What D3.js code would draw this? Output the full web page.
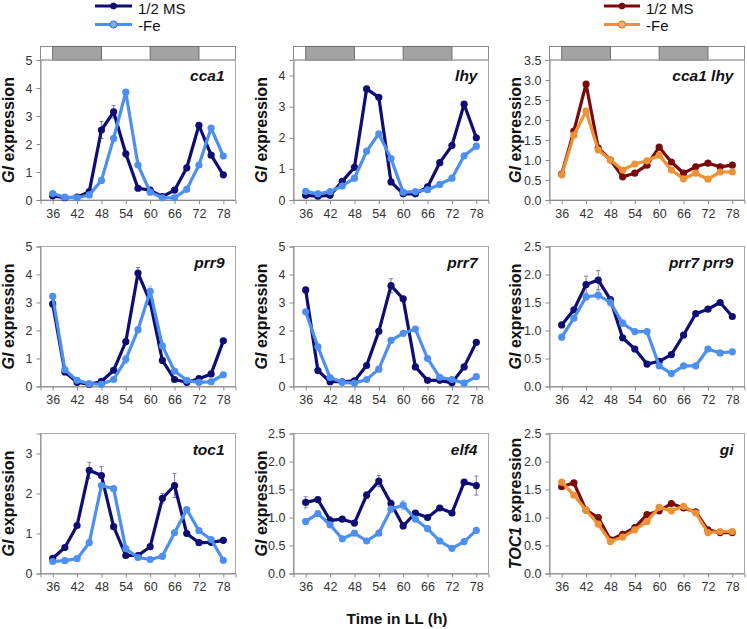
<!DOCTYPE html>
<html><head><meta charset="utf-8">
<script src="https://cdn.jsdelivr.net/npm/d3@7"></script>
<style>body{margin:0;background:#fff} svg{display:block;font-family:Arial,"Liberation Sans",sans-serif}</style>
</head><body><svg id="c" width="747" height="629"></svg>
<script>
// ---------- data ----------
const times = [36,39,42,45,48,51,54,57,60,63,66,69,72,75,78];
const xTickValues = [36,42,48,54,60,66,72,78];
const seriesNames = ["1/2 MS", "-Fe"];
const nightBands = [[36,48],[60,72]];

const cca1_ms   = [0.15,0.08,0.10,0.30,2.50,3.15,1.65,0.42,0.35,0.12,0.35,1.15,2.67,1.60,0.90];
const cca1_fe   = [0.23,0.10,0.08,0.18,0.70,2.20,3.85,1.25,0.28,0.08,0.08,0.38,1.25,2.57,1.57];
const cca1_msErr= [0,0,0,0,0.30,0.22,0,0,0,0,0,0,0,0,0];
const lhy_ms    = [0.15,0.12,0.15,0.60,1.05,3.57,3.30,0.58,0.20,0.20,0.42,1.20,1.75,3.08,2.00];
const lhy_fe    = [0.28,0.20,0.27,0.45,0.70,1.57,2.13,1.33,0.25,0.27,0.33,0.50,0.70,1.42,1.73];
const cl_ms     = [0.65,1.72,2.90,1.30,1.00,0.58,0.67,0.87,1.32,0.95,0.67,0.83,0.92,0.83,0.87];
const cl_fe     = [0.63,1.62,2.22,1.25,1.00,0.75,0.90,0.98,1.12,0.75,0.53,0.67,0.52,0.70,0.70];
const prr9_ms   = [2.95,0.52,0.15,0.08,0.18,0.58,1.60,4.05,3.02,0.93,0.25,0.15,0.28,0.45,1.63];
const prr9_fe   = [3.22,0.60,0.22,0.10,0.08,0.25,0.97,2.03,3.40,1.45,0.55,0.22,0.15,0.17,0.42];
const prr9_msErr= [0,0,0,0,0,0,0,0.20,0,0,0,0,0,0,0];
const prr9_feErr= [0,0,0,0,0,0,0.15,0,0.18,0,0,0,0,0,0];
const prr7_ms   = [3.45,0.57,0.17,0.17,0.20,0.75,1.97,3.60,3.13,0.70,0.22,0.22,0.13,0.70,1.58];
const prr7_fe   = [2.67,1.42,0.32,0.15,0.12,0.25,0.62,1.65,1.90,2.05,1.00,0.33,0.25,0.12,0.35];
const prr7_msErr= [0,0,0,0,0,0,0,0.25,0,0,0,0,0,0,0];
const p79_ms    = [1.10,1.37,1.82,1.90,1.55,0.87,0.67,0.40,0.45,0.57,0.92,1.30,1.38,1.50,1.25];
const p79_fe    = [0.88,1.22,1.60,1.63,1.50,1.13,0.98,0.98,0.37,0.23,0.37,0.37,0.67,0.60,0.62];
const p79_msErr = [0,0,0.15,0.17,0,0,0,0,0,0,0,0,0,0,0];
const p79_feErr = [0.05,0,0,0.08,0.08,0.06,0,0,0,0,0,0,0,0,0];
const toc1_ms   = [0.38,0.65,1.20,2.58,2.45,1.17,0.45,0.45,0.67,1.88,2.20,1.00,0.77,0.78,0.83];
const toc1_fe   = [0.30,0.32,0.37,0.77,2.20,2.12,0.62,0.40,0.35,0.43,1.02,1.60,1.07,0.85,0.33];
const toc1_msErr= [0,0,0,0.20,0.22,0,0,0,0,0.12,0.30,0,0,0,0];
const elf4_ms   = [1.27,1.32,0.95,0.97,0.90,1.40,1.65,1.25,0.85,1.08,1.00,1.17,1.08,1.63,1.57];
const elf4_fe   = [0.93,1.07,0.87,0.62,0.72,0.58,0.72,1.15,1.22,0.97,0.80,0.58,0.45,0.57,0.77];
const elf4_msErr= [0.10,0,0.06,0,0,0.06,0.10,0.06,0,0,0,0,0,0.04,0.17];
const elf4_feErr= [0,0.05,0,0,0,0,0,0.05,0.08,0,0,0.05,0,0,0];
const gi_ms     = [1.55,1.62,1.13,1.00,0.60,0.70,0.82,1.05,1.12,1.25,1.17,1.10,0.78,0.73,0.73];
const gi_fe     = [1.63,1.40,1.13,0.88,0.57,0.65,0.78,0.93,1.18,1.12,1.20,1.08,0.73,0.75,0.75];

const ticks0to5   = [0,1,2,3,4,5];
const ticks0to4   = [0,1,2,3,4];
const ticks0to3   = [0,1,2,3];
const ticks0to35  = [0,0.5,1,1.5,2,2.5,3,3.5];
const ticks0to25  = [0,0.5,1,1.5,2,2.5];

// ---------- styles / layout ----------
const blue = {ms:"#0d0d73", fe:"#4d8ff0", feFill:"#79aef5", feStroke:"#3a70c8"};
const red  = {ms:"#7a0a0a", fe:"#ec9234", feFill:"#f4b266", feStroke:"#c46c1a"};

const panels = [
  {title:"cca1", ms:cca1_ms, fe:cca1_fe, msErr:cca1_msErr, yMax:5, ticks:ticks0to5, dec:0, pal:blue, gene:"GI", row:0, col:0, bands:true},
  {title:"lhy", ms:lhy_ms, fe:lhy_fe, yMax:4.5, ticks:ticks0to4, dec:0, pal:blue, gene:"GI", row:0, col:1, bands:true},
  {title:"cca1 lhy", ms:cl_ms, fe:cl_fe, yMax:3.5, ticks:ticks0to35, dec:1, pal:red, gene:"GI", row:0, col:2, bands:true},
  {title:"prr9", ms:prr9_ms, fe:prr9_fe, msErr:prr9_msErr, feErr:prr9_feErr, yMax:5, ticks:ticks0to5, dec:0, pal:blue, gene:"GI", row:1, col:0},
  {title:"prr7", ms:prr7_ms, fe:prr7_fe, msErr:prr7_msErr, yMax:5, ticks:ticks0to5, dec:0, pal:blue, gene:"GI", row:1, col:1},
  {title:"prr7 prr9", ms:p79_ms, fe:p79_fe, msErr:p79_msErr, feErr:p79_feErr, yMax:2.5, ticks:ticks0to25, dec:1, pal:blue, gene:"GI", row:1, col:2},
  {title:"toc1", ms:toc1_ms, fe:toc1_fe, msErr:toc1_msErr, yMax:3.5, ticks:ticks0to3, dec:0, pal:blue, gene:"GI", row:2, col:0},
  {title:"elf4", ms:elf4_ms, fe:elf4_fe, msErr:elf4_msErr, feErr:elf4_feErr, yMax:2.5, ticks:ticks0to25, dec:1, pal:blue, gene:"GI", row:2, col:1},
  {title:"gi", ms:gi_ms, fe:gi_fe, yMax:2.5, ticks:ticks0to25, dec:1, pal:red, gene:"TOC1", row:2, col:2}
];

const colLeft = [40.5, 293.5, 549.5];
const rowTop  = [60, 246.5, 433.5];
const ylabX   = [8, 261, 515];
const W = 195, H = 140;

const svg = d3.select("#c");

panels.forEach(p => {
  const g = svg.append("g").attr("transform", `translate(${colLeft[p.col]},${rowTop[p.row]})`);
  const x = d3.scaleLinear().domain([33,81]).range([0,W]);
  const y = d3.scaleLinear().domain([0,p.yMax]).range([H,0]);

  if (p.bands) {
    g.append("rect").attr("x",0).attr("y",-13.5).attr("width",W).attr("height",13.5)
      .attr("fill","#fff").attr("stroke","#8a8a8a").attr("stroke-width",1);
    nightBands.forEach(b => {
      g.append("rect").attr("x",x(b[0])).attr("y",-13.5).attr("width",x(b[1])-x(b[0])).attr("height",13.5)
        .attr("fill","#a3a3a3").attr("stroke","#6b6b6b").attr("stroke-width",1);
    });
  }

  g.append("rect").attr("x",0).attr("y",0).attr("width",W).attr("height",H)
    .attr("fill","none").attr("stroke","#a8a8a8").attr("stroke-width",1);

  const yAxis = d3.axisLeft(y).tickValues(p.ticks).tickSize(4).tickPadding(4)
    .tickFormat(d => p.dec ? d3.format(".1f")(d) : d3.format("d")(d));
  const ya = g.append("g").call(yAxis);
  const xAxis = d3.axisBottom(x).tickValues(xTickValues).tickSize(4).tickPadding(5);
  const xa = g.append("g").attr("transform",`translate(0,${H})`).call(xAxis);
  [ya, xa].forEach(a => {
    a.select(".domain").attr("stroke","#8a8a8a");
    a.selectAll(".tick line").attr("stroke","#8a8a8a");
    a.selectAll(".tick text").attr("fill","#333").attr("font-size",12.5).attr("font-family","Arial, 'Liberation Sans', sans-serif");
  });

  g.append("text").attr("x",W-11).attr("y",21).attr("text-anchor","end")
    .attr("font-size",15.5).attr("font-weight","bold").attr("font-style","italic").attr("fill","#111")
    .text(p.title);

  const line = d3.line().x((d,i) => x(times[i])).y(d => y(d));
  const series = [
    {vals:p.ms, err:p.msErr, color:p.pal.ms},
    {vals:p.fe, err:p.feErr, color:p.pal.fe}
  ];
  series.forEach(s => {
    if (s.err) {
      const eg = g.append("g").attr("stroke",s.color).attr("stroke-width",1).attr("opacity",0.55);
      s.vals.forEach((v,i) => {
        const e = s.err[i];
        if (!e) return;
        const cx = x(times[i]);
        eg.append("line").attr("x1",cx).attr("x2",cx).attr("y1",y(v-e)).attr("y2",y(v+e));
        eg.append("line").attr("x1",cx-2).attr("x2",cx+2).attr("y1",y(v+e)).attr("y2",y(v+e));
        eg.append("line").attr("x1",cx-2).attr("x2",cx+2).attr("y1",y(v-e)).attr("y2",y(v-e));
      });
    }
    g.append("path").datum(s.vals).attr("d",line).attr("fill","none")
      .attr("stroke",s.color).attr("stroke-width",3.2).attr("stroke-linejoin","round");
    g.append("g").selectAll("circle").data(s.vals).join("circle")
      .attr("cx",(d,i)=>x(times[i])).attr("cy",d=>y(d)).attr("r",3.6).attr("fill",s.color);
  });

  const yl = svg.append("text")
    .attr("transform",`translate(${ylabX[p.col]},${rowTop[p.row]+H/2}) rotate(-90)`)
    .attr("text-anchor","middle").attr("dominant-baseline","central")
    .attr("font-size",16).attr("font-weight","bold").attr("fill","#111");
  yl.append("tspan").attr("font-style","italic").text(p.gene);
  yl.append("tspan").text(" expression");
});

svg.append("text").attr("x",397).attr("y",624).attr("text-anchor","middle")
  .attr("font-size",15.5).attr("font-weight","bold").attr("fill","#111").text("Time in LL (h)");

// legends
const legends = [{x1:95, x2:132, pal:blue}, {x1:604, x2:640, pal:red}];
legends.forEach(L => {
  const lineY = [6, 24.5], textY = [14, 31];
  seriesNames.forEach((name,i) => {
    const c = i===0 ? L.pal.ms : L.pal.fe;
    svg.append("line").attr("x1",L.x1).attr("x2",L.x2).attr("y1",lineY[i]).attr("y2",lineY[i])
      .attr("stroke",c).attr("stroke-width",3.2);
    svg.append("circle").attr("cx",(L.x1+L.x2)/2).attr("cy",lineY[i]).attr("r", i===0?3:3.6)
      .attr("fill", i===0 ? c : L.pal.feFill).attr("stroke", i===0 ? c : L.pal.feStroke).attr("stroke-width",1);
    svg.append("text").attr("x",L.x2+6).attr("y",textY[i])
      .attr("font-size",15).attr("fill","#111").text(name);
  });
});
</script></body></html>
